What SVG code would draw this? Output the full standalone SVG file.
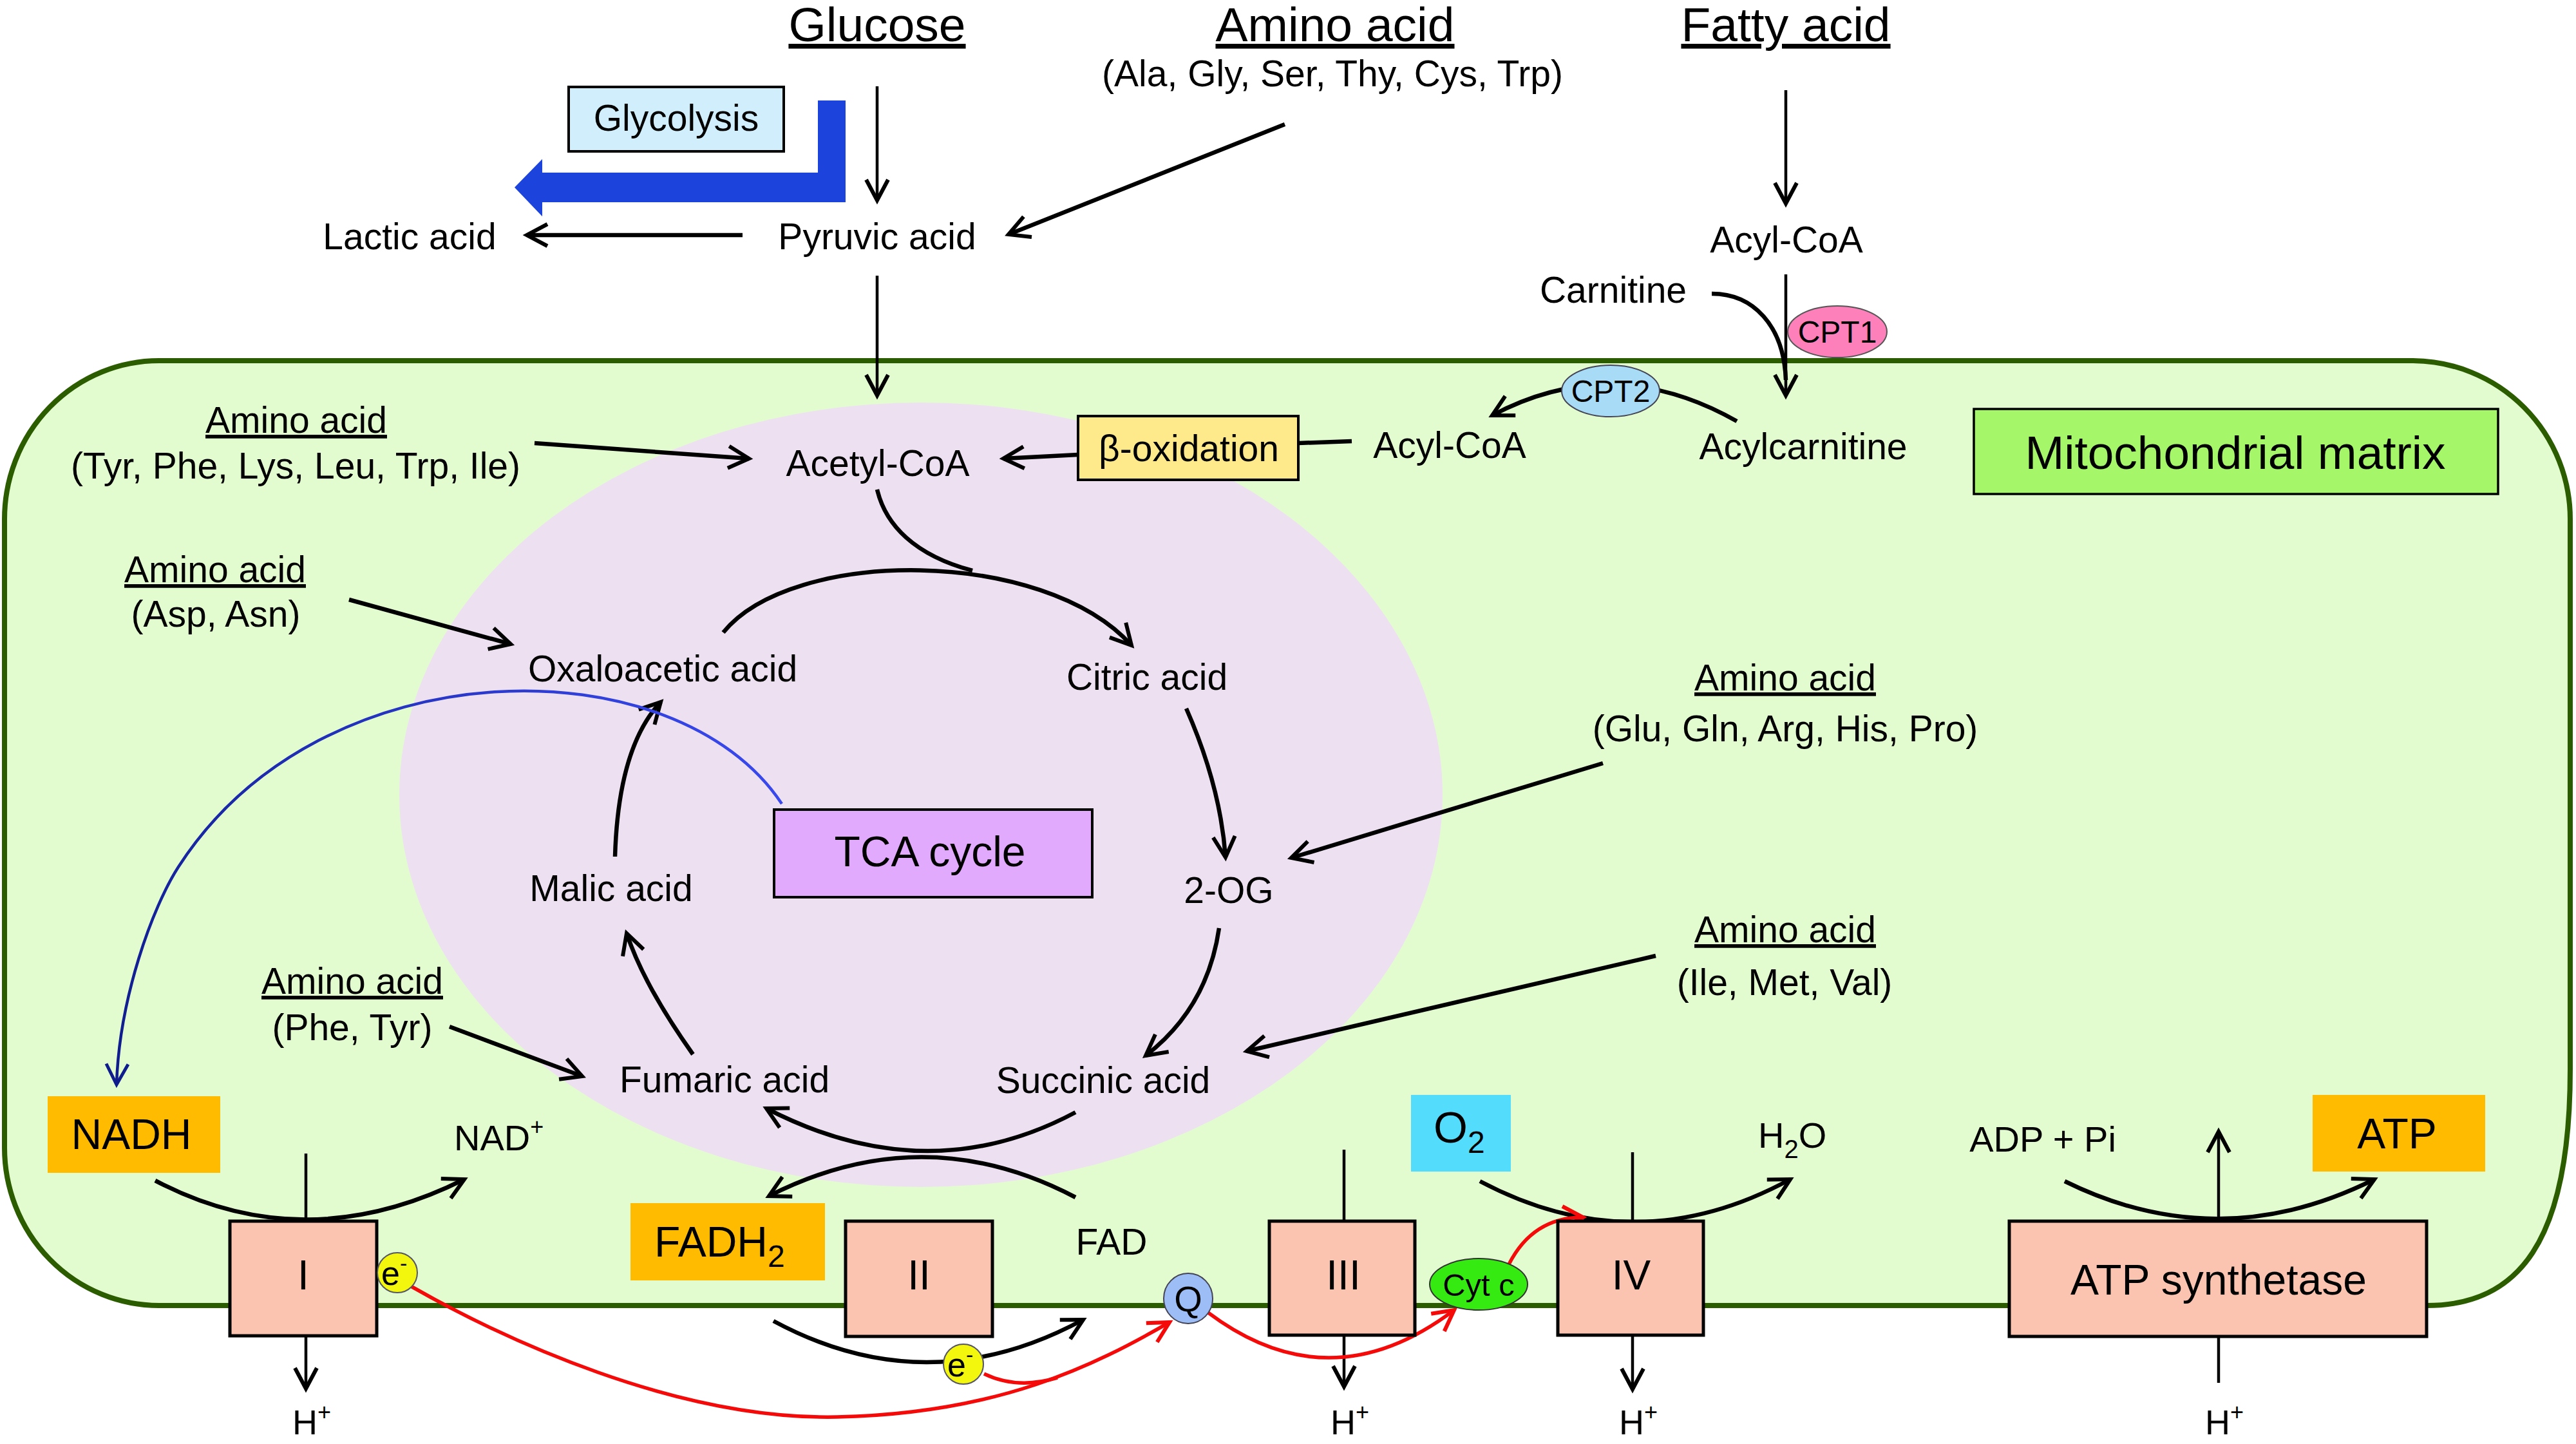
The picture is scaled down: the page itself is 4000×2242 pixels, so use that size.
<svg xmlns="http://www.w3.org/2000/svg" width="4000" height="2242" viewBox="0 0 4000 2242">
<style>
text { font-family: "Liberation Sans", Arial, Helvetica, sans-serif; fill: #000; }
.m { text-anchor: middle; }
.f75 { font-size: 75px; }
.f57 { font-size: 57px; }
.f66 { font-size: 66px; }
.f48 { font-size: 48px; }
.u { text-decoration: underline; }
.ln { fill: none; stroke: #000; stroke-width: 4.5; }
.lt { fill: none; stroke: #000; stroke-width: 6.5; }
.red { fill: none; stroke: #f50a0a; stroke-width: 5.5; }
.box { stroke: #000; stroke-width: 4; }
.cx { fill: #fbc4b0; stroke: #000; stroke-width: 5; }
.or { fill: #ffbb00; }
</style>
<defs>
<marker id="ah" markerUnits="userSpaceOnUse" markerWidth="44" markerHeight="44" viewBox="0 0 44 44" refX="40" refY="22" orient="auto" overflow="visible">
<path d="M8,5 L40,22 L8,39" fill="none" stroke="#000" stroke-width="6"/>
</marker>
<marker id="ahr" markerUnits="userSpaceOnUse" markerWidth="44" markerHeight="44" viewBox="0 0 44 44" refX="40" refY="22" orient="auto" overflow="visible">
<path d="M8,5 L40,22 L8,39" fill="none" stroke="#f50a0a" stroke-width="6"/>
</marker>
<marker id="ahb" markerUnits="userSpaceOnUse" markerWidth="44" markerHeight="44" viewBox="0 0 44 44" refX="40" refY="22" orient="auto" overflow="visible">
<path d="M8,5 L40,22 L8,39" fill="none" stroke="#0e1c8c" stroke-width="5"/>
</marker>
<linearGradient id="bg" gradientUnits="userSpaceOnUse" x1="1214" y1="1248" x2="181" y2="1684">
<stop offset="0" stop-color="#3848ec"/>
<stop offset="1" stop-color="#0e1c8c"/>
</linearGradient>
</defs>

<!-- background compartments -->
<g id="membrane">
<path d="M 247 560 H 3747 A 246 246 0 0 1 3991 806 V 1660 C 3991 1930 3910 2027 3768 2027 H 247 A 240 245 0 0 1 7 1782 V 806 A 240 246 0 0 1 247 560 Z" fill="#e2fcd0" stroke="#2c5c00" stroke-width="8"/>
</g>
<g id="tca-region">
<ellipse cx="1430" cy="1234" rx="810" ry="609" fill="#ede1f1"/>
</g>

<!-- connectors -->
<g id="connectors">
<path class="ln" d="M 1362 134 V 311" marker-end="url(#ah)"/>
<path d="M 1270 156 H 1313 V 314 H 842 V 336 L 799 291 L 842 247 V 268 H 1270 Z" fill="#1c44dd"/>
<path class="lt" d="M 1153 365 H 818" marker-end="url(#ah)"/>
<path class="lt" d="M 1995 193 L 1566 364" marker-end="url(#ah)"/>
<path class="ln" d="M 1362 428 V 614" marker-end="url(#ah)"/>
<path class="ln" d="M 2773 140 V 316" marker-end="url(#ah)"/>
<path class="ln" d="M 2773 426 V 614" marker-end="url(#ah)"/>
<path class="lt" d="M 2658 456 C 2722 456 2770 505 2773 590"/>
<path class="lt" d="M 2697 654 Q 2505 545 2317 645" marker-end="url(#ah)"/>
<path class="lt" d="M 2099 685 L 2016 688"/>
<path class="lt" d="M 1674 706 L 1558 712" marker-end="url(#ah)"/>
<path class="lt" d="M 830 688 L 1163 712" marker-end="url(#ah)"/>
<path class="lt" d="M 542 931 L 793 1000" marker-end="url(#ah)"/>
<path class="lt" d="M 1123 982 C 1230 850 1620 850 1757 1002" marker-end="url(#ah)"/>
<path class="lt" d="M 1362 760 C 1375 815 1420 862 1510 886"/>
<path class="lt" d="M 1842 1100 Q 1895 1220 1903 1331" marker-end="url(#ah)"/>
<path class="lt" d="M 2489 1185 L 2005 1332" marker-end="url(#ah)"/>
<path class="lt" d="M 1893 1441 Q 1875 1565 1779 1639" marker-end="url(#ah)"/>
<path class="lt" d="M 2571 1484 L 1936 1632" marker-end="url(#ah)"/>
<path class="lt" d="M 1670 1727 Q 1440 1850 1190 1721" marker-end="url(#ah)"/>
<path class="lt" d="M 1670 1859 Q 1434 1735 1194 1857" marker-end="url(#ah)"/>
<path class="lt" d="M 1076 1637 Q 1000 1530 973 1449" marker-end="url(#ah)"/>
<path class="lt" d="M 955 1330 Q 960 1160 1026 1090" marker-end="url(#ah)"/>
<path class="lt" d="M 698 1594 L 904 1671" marker-end="url(#ah)"/>
<path d="M 1214 1248 C 1050 1000 500 1000 277 1346 C 237 1408 185 1550 181 1684" fill="none" stroke="url(#bg)" stroke-width="4.5" marker-end="url(#ahb)"/>
<path class="lt" d="M 241 1833 Q 473 1955 721 1831" marker-end="url(#ah)"/>
<path class="ln" d="M 475 1791 V 1896"/>
<path class="ln" d="M 475 2074 V 2156" marker-end="url(#ah)"/>
<path class="lt" d="M 1201 2051 Q 1440 2180 1682 2049" marker-end="url(#ah)"/>
<path class="ln" d="M 2087 1785 V 1896"/>
<path class="ln" d="M 2087 2073 V 2153" marker-end="url(#ah)"/>
<path class="lt" d="M 2298 1834 Q 2540 1962 2780 1831" marker-end="url(#ah)"/>
<path class="ln" d="M 2535 1789 V 1896"/>
<path class="ln" d="M 2535 2073 V 2157" marker-end="url(#ah)"/>
<path class="lt" d="M 3206 1834 Q 3445 1952 3687 1831" marker-end="url(#ah)"/>
<path class="ln" d="M 3445 1893 V 1757" marker-end="url(#ah)"/>
<path class="ln" d="M 3445 2075 V 2147"/>
<path class="red" d="M 638 1997 C 780 2078 1050 2205 1300 2200 S 1700 2120 1816 2053" marker-end="url(#ahr)"/>
<path class="red" d="M 1528 2133 Q 1580 2158 1642 2139"/>
<path class="red" d="M 1876 2038 Q 2065 2180 2258 2034" marker-end="url(#ahr)"/>
<path class="red" d="M 2343 1963 Q 2380 1890 2458 1890" marker-end="url(#ahr)"/>
</g>

<!-- nodes -->
<g id="glucose"><text class="m f75 u" x="1362" y="64">Glucose</text></g>
<g id="amino-top"><text class="m f75 u" x="2073" y="64">Amino acid</text><text class="m f57" x="2069" y="134">(Ala, Gly, Ser, Thy, Cys, Trp)</text></g>
<g id="fatty-acid"><text class="m f75 u" x="2773" y="64">Fatty acid</text></g>
<g id="glycolysis"><rect class="box" x="883" y="135" width="334" height="100" fill="#d0eefb"/><text class="m f57" x="1050" y="203">Glycolysis</text></g>
<g id="lactic"><text class="m f57" x="636" y="387">Lactic acid</text></g>
<g id="pyruvic"><text class="m f57" x="1362" y="387">Pyruvic acid</text></g>
<g id="acylcoa-out"><text class="m f57" x="2774" y="392">Acyl-CoA</text></g>
<g id="carnitine"><text class="m f57" x="2505" y="470">Carnitine</text></g>
<g id="cpt1"><ellipse cx="2853" cy="515" rx="77" ry="40" fill="#fd80bb" stroke="#555" stroke-width="2"/><text class="m f48" x="2853" y="532">CPT1</text></g>
<g id="cpt2"><ellipse cx="2501" cy="607" rx="76" ry="40" fill="#a8dbf5" stroke="#445" stroke-width="2"/><text class="m f48" x="2501" y="624">CPT2</text></g>
<g id="acylcarnitine"><text class="m f57" x="2800" y="713">Acylcarnitine</text></g>
<g id="acylcoa-in"><text class="m f57" x="2251" y="711">Acyl-CoA</text></g>
<g id="beta-ox"><rect class="box" x="1674" y="646" width="342" height="99" fill="#fee98b"/><text class="m f57" x="1846" y="716">β-oxidation</text></g>
<g id="acetylcoa"><text class="m f57" x="1363" y="739">Acetyl-CoA</text></g>
<g id="matrix-label"><rect x="3065" y="635" width="814" height="132" fill="#a6f66a" stroke="#000" stroke-width="3.5"/><text class="m" style="font-size:73px" x="3471" y="728">Mitochondrial matrix</text></g>
<g id="amino-tyr"><text class="m f57 u" x="460" y="672">Amino acid</text><text class="m f57" x="459" y="743">(Tyr, Phe, Lys, Leu, Trp, Ile)</text></g>
<g id="amino-asp"><text class="m f57 u" x="334" y="904">Amino acid</text><text class="m f57" x="335" y="973">(Asp, Asn)</text></g>
<g id="oxaloacetic"><text class="m f57" x="1029" y="1058">Oxaloacetic acid</text></g>
<g id="citric"><text class="m f57" x="1781" y="1071">Citric acid</text></g>
<g id="amino-glu"><text class="m f57 u" x="2772" y="1072">Amino acid</text><text class="m f57" x="2772" y="1151">(Glu, Gln, Arg, His, Pro)</text></g>
<g id="tca"><rect class="box" x="1202" y="1257" width="494" height="136" fill="#e2aafc"/><text class="m f66" x="1444" y="1345">TCA cycle</text></g>
<g id="og"><text class="m f57" x="1908" y="1402">2-OG</text></g>
<g id="malic"><text class="m f57" x="949" y="1399">Malic acid</text></g>
<g id="amino-ile"><text class="m f57 u" x="2772" y="1463">Amino acid</text><text class="m f57" x="2771" y="1545">(Ile, Met, Val)</text></g>
<g id="amino-phe"><text class="m f57 u" x="547" y="1543">Amino acid</text><text class="m f57" x="547" y="1615">(Phe, Tyr)</text></g>
<g id="fumaric"><text class="m f57" x="1125" y="1696">Fumaric acid</text></g>
<g id="succinic"><text class="m f57" x="1713" y="1697">Succinic acid</text></g>
<g id="nadh"><rect class="or" x="74" y="1702" width="268" height="119"/><text class="m f66" x="204" y="1784">NADH</text></g>
<g id="nad"><text x="705" y="1786" style="font-size:56px">NAD<tspan dy="-24" style="font-size:36px">+</tspan></text></g>
<g id="o2"><rect x="2191" y="1700" width="155" height="119" fill="#54dcfd"/><text x="2226" y="1774" style="font-size:68px">O<tspan dy="16" style="font-size:48px">2</tspan></text></g>
<g id="h2o"><text x="2730" y="1782" style="font-size:56px">H<tspan dy="16" style="font-size:40px">2</tspan><tspan dy="-16">O</tspan></text></g>
<g id="adp"><text class="m" x="3172" y="1788" style="font-size:56px">ADP + Pi</text></g>
<g id="atp"><rect class="or" x="3591" y="1700" width="268" height="119"/><text class="m f66" x="3722" y="1783">ATP</text></g>
<g id="fadh2"><rect class="or" x="979" y="1868" width="302" height="120"/><text x="1016" y="1951" style="font-size:66px">FADH<tspan dy="16" style="font-size:48px">2</tspan></text></g>
<g id="fad"><text class="m f57" x="1726" y="1948">FAD</text></g>
<g id="complex-i"><rect class="cx" x="357" y="1896" width="228" height="178"/><text class="m" x="471" y="2002" style="font-size:64px">I</text></g>
<g id="complex-ii"><rect class="cx" x="1313" y="1896" width="228" height="179"/><text class="m" x="1427" y="2002" style="font-size:64px">II</text></g>
<g id="complex-iii"><rect class="cx" x="1971" y="1896" width="226" height="177"/><text class="m" x="2086" y="2002" style="font-size:64px">III</text></g>
<g id="complex-iv"><rect class="cx" x="2419" y="1896" width="226" height="177"/><text class="m" x="2533" y="2002" style="font-size:64px">IV</text></g>
<g id="atp-synthetase"><rect class="cx" x="3120" y="1896" width="648" height="179"/><text class="m f66" x="3445" y="2010">ATP synthetase</text></g>
<g id="e1"><circle cx="617" cy="1976" r="31" fill="#f3f70e" stroke="#556" stroke-width="2"/><text x="592" y="1995" style="font-size:52px">e<tspan dy="-22" style="font-size:34px">-</tspan></text></g>
<g id="e2"><circle cx="1496" cy="2118" r="31" fill="#f3f70e" stroke="#556" stroke-width="2"/><text x="1471" y="2137" style="font-size:52px">e<tspan dy="-22" style="font-size:34px">-</tspan></text></g>
<g id="q"><ellipse cx="1845" cy="2016" rx="38" ry="39" fill="#9dbdf7" stroke="#445" stroke-width="2"/><text class="m" x="1845" y="2036" style="font-size:56px">Q</text></g>
<g id="cytc"><ellipse cx="2296" cy="1994" rx="76" ry="40" fill="#35ea10" stroke="#333" stroke-width="2"/><text class="m" x="2296" y="2012" style="font-size:49px">Cyt c</text></g>
<g id="h-i"><text class="m" x="484" y="2227" style="font-size:54px">H<tspan dy="-22" style="font-size:36px">+</tspan></text></g>
<g id="h-iii"><text class="m" x="2096" y="2227" style="font-size:54px">H<tspan dy="-22" style="font-size:36px">+</tspan></text></g>
<g id="h-iv"><text class="m" x="2544" y="2227" style="font-size:54px">H<tspan dy="-22" style="font-size:36px">+</tspan></text></g>
<g id="h-atp"><text class="m" x="3454" y="2227" style="font-size:54px">H<tspan dy="-22" style="font-size:36px">+</tspan></text></g>
</svg>
